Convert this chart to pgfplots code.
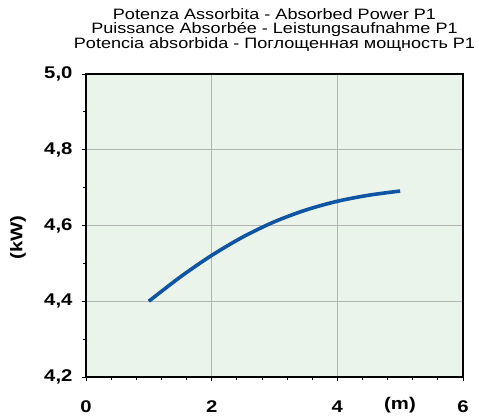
\documentclass[border=0pt]{standalone}
\usepackage{fontspec}
\setmainfont{Liberation Sans}[FakeStretch=1.2]
\usepackage{pgfplots}
\pgfplotsset{compat=1.18}
\definecolor{bgfill}{HTML}{EAF4EB}
\definecolor{curve}{HTML}{0F55A3}
\definecolor{gridc}{HTML}{B4B4B4}
\begin{document}
\begin{tikzpicture}
\begin{axis}[
  name=ax,
  scale only axis,
  width=377bp, height=303bp,
  xmin=0, xmax=6, ymin=4.2, ymax=5.0,
  xtick={0,2,4,6}, ytick={4.2,4.4,4.6,4.8,5.0},
  minor x tick num=4, minor y tick num=1,
  tick align=outside,
  major tick length=4bp, minor tick length=2.5bp,
  xtick pos=bottom, ytick pos=left,
  axis line style={line width=1.2bp},
  tick style={black, line width=0.8bp},
  grid=major,
  major grid style={gridc, line width=0.8bp},
  axis background/.style={fill=bgfill},
  /pgf/number format/assume math mode=true,
  /pgf/number format/use comma,
  /pgf/number format/fixed,
  /pgf/number format/precision=1,
  /pgf/number format/fixed zerofill,
  xticklabel style={font=\fontsize{17}{17}\selectfont\bfseries, yshift=-16bp},
  yticklabel style={font=\fontsize{17}{17}\selectfont\bfseries, xshift=-6bp},
  xticklabel={\pgfmathprintnumber[precision=0,fixed zerofill=false]{\tick}},
  clip=false,
]
\addplot[curve, line width=3.6bp, smooth] coordinates {
  (1.0,4.400) (1.5,4.464) (2.0,4.521) (2.5,4.570) (3.0,4.610)
  (3.5,4.641) (4.0,4.664) (4.5,4.680) (5.0,4.691)
};
\end{axis}
\begin{scope}[font=\fontsize{15.1}{15.1}\selectfont]
\node[anchor=base] at ([yshift=55bp]ax.north) {Potenza Assorbita - Absorbed Power P1};
\node[anchor=base] at ([yshift=41bp]ax.north) {Puissance Absorbée - Leistungsaufnahme P1};
\node[anchor=base] at ([yshift=26bp]ax.north) {Potencia absorbida - Поглощенная мощность P1};
\end{scope}
\node[font=\fontsize{17}{17}\selectfont\bfseries, rotate=90] at ([xshift=-68bp,yshift=-12bp]ax.west) {(kW)};
\node[font=\fontsize{17}{17}\selectfont\bfseries] at ([xshift=314bp,yshift=-28bp]ax.south west) {(m)};
\pgfresetboundingbox
\path ([xshift=-86bp,yshift=-42bp]ax.south west) rectangle ++(479bp,419bp);
\end{tikzpicture}
\end{document}
